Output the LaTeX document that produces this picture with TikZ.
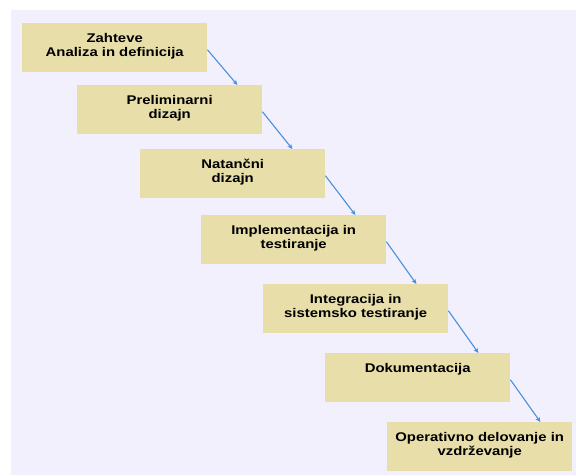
\documentclass[tikz,border=0pt]{standalone}
\usepackage{fontspec}
\newfontfamily\boxfont[FakeStretch=1.18]{Liberation Sans}
\usetikzlibrary{arrows.meta}
\definecolor{panel}{RGB}{243,240,253}
\definecolor{stagefill}{RGB}{232,222,170}
\definecolor{flowblue}{RGB}{74,143,219}
\tikzset{
  stagebox/.style={rectangle, fill=stagefill, draw=none, anchor=north west,
    minimum width=185pt, minimum height=49pt, inner sep=0pt},
  stagetext/.style={anchor=north, inner sep=0pt, align=center,
    font=\boxfont\bfseries\fontsize{12.6pt}{14pt}\selectfont},
  flow/.style={draw=flowblue, line width=1.1pt,
    -{Stealth[length=5pt,width=4.5pt]}},
}
\begin{document}
\begin{tikzpicture}[x=1pt,y=1pt]
  \useasboundingbox (0,0) rectangle (576,-475);
  \fill[white] (0,0) rectangle (576,-475);
  \fill[panel] (11,-10) rectangle (576,-475);

  % waterfall stages
  \node[stagebox] (b1) at (22,-23) {};
  \node[stagebox] (b2) at (77,-85) {};
  \node[stagebox] (b3) at (140,-149) {};
  \node[stagebox] (b4) at (201,-215) {};
  \node[stagebox] (b5) at (263,-284) {};
  \node[stagebox] (b6) at (325,-353) {};
  \node[stagebox] (b7) at (387,-422) {};

  \node[stagetext] (t1) at ([yshift=-9.8pt]b1.north) {Zahteve\\Analiza in definicija};
  \node[stagetext] (t2) at ([yshift=-9.8pt]b2.north) {Preliminarni\\dizajn};
  \node[stagetext] (t3) at ([yshift=-9.8pt]b3.north) {Natančni\\dizajn};
  \node[stagetext] (t4) at ([yshift=-9.8pt]b4.north) {Implementacija in\\testiranje};
  \node[stagetext] (t5) at ([yshift=-9.8pt]b5.north) {Integracija in\\sistemsko testiranje};
  \node[stagetext] (t6) at ([yshift=-9.8pt]b6.north) {Dokumentacija};
  \node[stagetext] (t7) at ([yshift=-9.8pt]b7.north) {Operativno delovanje in\\vzdrževanje};

  % connectors: from the right side of a stage down onto the next one
  \foreach \i/\j in {1/2,2/3,3/4,4/5,5/6,6/7} {
    \coordinate (s\i) at ([yshift=-2pt]b\i.east);
    \coordinate (e\i) at ([xshift=30pt]s\i);
    \draw[flow] (s\i) -- (e\i |- b\j.north);
  }
\end{tikzpicture}
\end{document}
